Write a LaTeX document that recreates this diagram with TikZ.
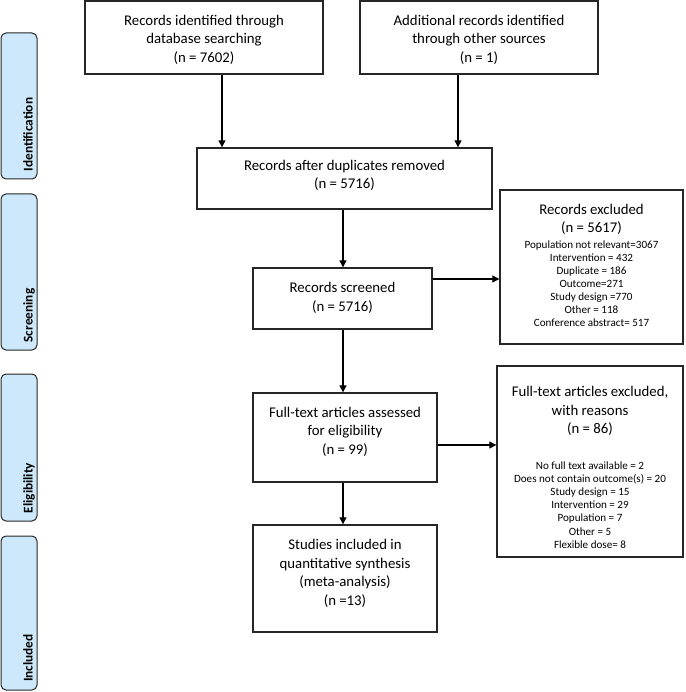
\documentclass[tikz,border=0pt]{standalone}
\usepackage{fontspec}
\setmainfont{Carlito}
\usetikzlibrary{arrows.meta}
\definecolor{sidefill}{HTML}{CCE8FA}
\definecolor{edge}{HTML}{262626}
\tikzset{
  mainbox/.style={draw=edge, line width=1.4pt, inner sep=0pt},
  sidebox/.style={draw=edge, fill=sidefill, line width=1pt, rounded corners=5pt, inner sep=0pt, minimum width=36pt},
  sidetext/.style={rotate=90, anchor=base west, inner sep=0pt, font=\fontsize{13.3}{15}\selectfont\bfseries},
  bigtext/.style={align=center, inner sep=0pt, font=\fontsize{14.8}{18.6}\selectfont},
  smalltext/.style={align=center, inner sep=0pt, font=\fontsize{11.1}{13.1}\selectfont},
  arr/.style={-{Triangle[length=7pt,width=7pt]}, line width=1.2pt, black},
}
\begin{document}
\begin{tikzpicture}[x=1pt,y=-1pt]
\useasboundingbox (0,0) rectangle (685,692);
% side boxes
\node[sidebox, minimum height=146pt] (sid) at (19,106) {};
\node[sidebox, minimum height=156pt] (ssc) at (19,272) {};
\node[sidebox, minimum height=147pt] (sel) at (19,447.5) {};
\node[sidebox, minimum height=154pt] (sin) at (19,613) {};
\node[sidetext] (tid) at (32.5,171.5) {Identification};
\node[sidetext] (tsc) at (32.5,342.5) {Screening};
\node[sidetext] (tel) at (32.5,513.5) {Eligibility};
\node[sidetext] (tin) at (32.5,682) {Included};
% main boxes
\node[mainbox, minimum width=238pt, minimum height=73pt] (tl) at (204,37.5) {};
\node[mainbox, minimum width=238pt, minimum height=73pt] (tr) at (479,37.5) {};
\node[mainbox, minimum width=295pt, minimum height=61pt] (dup) at (344.5,178.5) {};
\node[mainbox, minimum width=179pt, minimum height=61pt] (scr) at (342.5,298.5) {};
\node[mainbox, minimum width=184pt, minimum height=89pt] (full) at (345,437.5) {};
\node[mainbox, minimum width=184pt, minimum height=107pt] (stud) at (345,578.5) {};
\node[mainbox, minimum width=183pt, minimum height=154pt] (ex1) at (591.5,267) {};
\node[mainbox, minimum width=186pt, minimum height=191pt] (ex2) at (590,461.5) {};
% texts
\node[bigtext] (tlT) at (204,39.5) {Records identified through\\database searching\\(n = 7602)};
\node[bigtext] (trT) at (479,39.5) {Additional records identified\\through other sources\\(n = 1)};
\node[bigtext] (dupT) at (344.5,175.5) {Records after duplicates removed\\(n = 5716)};
\node[bigtext] (scrT) at (342.5,298) {Records screened\\(n = 5716)};
\node[bigtext] (fullT) at (345,431.5) {Full-text articles assessed\\for eligibility\\(n = 99)};
\node[bigtext] (studT) at (345,573.5) {Studies included in\\quantitative synthesis\\(meta-analysis)\\(n =13)};
\node[bigtext] (ex1H) at (591.5,219.5) {Records excluded\\(n = 5617)};
\node[smalltext] (ex1L) at (591.5,283.5) {Population not relevant=3067\\Intervention = 432\\Duplicate = 186\\Outcome=271\\Study design =770\\Other = 118\\Conference abstract= 517};
\node[bigtext] (ex2H) at (590,411) {Full-text articles excluded,\\with reasons\\(n = 86)};
\node[smalltext] (ex2L) at (590,505) {No full text available = 2\\Does not contain outcome(s) = 20\\Study design = 15\\Intervention = 29\\Population = 7\\Other = 5\\Flexible dose= 8};
% connector guides
\coordinate (c1) at (222,0);
\coordinate (c2) at (458,0);
\coordinate (c3) at (343,0);
\coordinate (r1) at (0,279);
\coordinate (r2) at (0,445);
% connectors
\draw[arr] (tl.south -| c1) -- (dup.north -| c1);
\draw[arr] (tr.south -| c2) -- (dup.north -| c2);
\draw[arr] (dup.south -| c3) -- (scr.north -| c3);
\draw[arr] (scr.south -| c3) -- (full.north -| c3);
\draw[arr] (full.south -| c3) -- (stud.north -| c3);
\draw[arr] (scr.east |- r1) -- (ex1.west |- r1);
\draw[arr] (full.east |- r2) -- (ex2.west |- r2);
\end{tikzpicture}
\end{document}
